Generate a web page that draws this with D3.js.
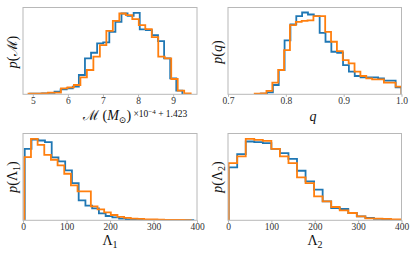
<!DOCTYPE html>
<html><head><meta charset="utf-8">
<script src="https://cdn.jsdelivr.net/npm/d3@7"></script>
<style>body{margin:0;background:#fff}svg{display:block}</style>
</head><body>
<svg id="c" width="415" height="257"></svg>
<script>
// ---- data (bin heights, arbitrary density units) ----
const mBlueRange = [4.924, 9.263];
const mBlue = [2,2,3,4,8,15,18,23,58,108,125,153,156,188,218,243,236,245,195,193,178,160,108,48,11];
const mOrangeRange = [4.877, 9.50];
const mOrange = [2,2,3,5,5,18,21,28,51,73,113,148,191,221,243,238,226,208,196,172,113,108,46,11,3];
const mTicks = [5,6,7,8,9];

const qBlueRange = [0.7473, 1.0];
const qBlue = [1,2,6,28,73,162,210,235,246,240,235,185,158,128,125,88,68,55,51,51,51,48,41,41,21];
const qOrangeRange = [0.7462, 1.0];
const qOrange = [2,3,10,35,73,133,208,218,221,222,235,235,188,158,130,103,93,68,55,48,45,45,35,35,23];
const qTicks = [0.7,0.8,0.9,1.0];

const l1BlueRange = [4, 391.5];
const l1Blue = [215,243,240,235,189,177,150,112,60,44,36,21,13,9,5,3,2,1.5,1,1,0.7,0.5,0.5,0.3,0.3];
const l1OrangeRange = [3, 385.5];
const l1Orange = [190,245,227,197,182,165,140,105,87,87,42,33,24,16,10,7,5,4,3,2.5,2,1.5,1.2,1,0.8];

const l2BlueRange = [1.5, 494];
const l2Blue = [159,199,237,235,232,215,202,185,149,117,92,57,37,34,22,12,7,4,2,1.5,1,0.7,0.5,0.3,0.2];
const l2OrangeRange = [1.5, 494];
const l2Orange = [172,192,245,242,239,215,192,172,129,112,72,57,40,30,22,12,6,5,4,3,3,2,2,1,1];
const lTicks = [0,100,200,300,400];

const yMax = 261;
const BLUE = "#1f77b4", ORANGE = "#ff7f0e";
const SERIF = "'Liberation Serif','DejaVu Serif',serif";

const panels = [
  {id:"m", box:[23,197,7.5,94.3], domain:[4.72,9.68], ticks:mTicks, fmt:d3.format("d"),
   series:[[mBlue,mBlueRange,BLUE],[mOrange,mOrangeRange,ORANGE]]},
  {id:"q", box:[228,401.5,7.5,94.3], domain:[0.7,1.0], ticks:qTicks, fmt:d3.format(".1f"),
   series:[[qBlue,qBlueRange,BLUE],[qOrange,qOrangeRange,ORANGE]]},
  {id:"l1", box:[23,197,133.5,220.3], domain:[0,400], ticks:lTicks, fmt:d3.format("d"),
   series:[[l1Blue,l1BlueRange,BLUE],[l1Orange,l1OrangeRange,ORANGE]]},
  {id:"l2", box:[228,401.5,133.5,220.3], domain:[0,400], ticks:lTicks, fmt:d3.format("d"),
   series:[[l2Blue,l2BlueRange,BLUE],[l2Orange,l2OrangeRange,ORANGE]]}
];

const svg = d3.select("#c");
const defs = svg.append("defs");

panels.forEach(p => {
  const [x0,x1,y0,y1] = p.box;
  const x = d3.scaleLinear().domain(p.domain).range([x0,x1]);
  const y = d3.scaleLinear().domain([0,yMax]).range([y1,y0]);
  defs.append("clipPath").attr("id","clip-"+p.id)
    .append("rect").attr("x",x0).attr("y",y0).attr("width",x1-x0).attr("height",y1-y0);

  const g = svg.append("g");
  const line = d3.line().x(d=>x(d[0])).y(d=>y(d[1]));
  p.series.forEach(([h,range,col]) => {
    const n = h.length, w = (range[1]-range[0])/n;
    const pts = [[range[0],0]];
    h.forEach((v,i)=>{ pts.push([range[0]+i*w, v]); pts.push([range[0]+(i+1)*w, v]); });
    pts.push([range[1],0]);
    g.append("path").attr("d", line(pts)).attr("fill","none")
      .attr("stroke",col).attr("stroke-width",1.8).attr("stroke-linejoin","miter")
      .attr("clip-path","url(#clip-"+p.id+")");
  });

  // frame
  svg.append("rect").attr("x",x0).attr("y",y0).attr("width",x1-x0).attr("height",y1-y0)
    .attr("fill","none").attr("stroke","#b8b8b8").attr("stroke-width",1);

  const ax = svg.append("g").attr("transform",`translate(0,${y1})`)
    .call(d3.axisBottom(x).tickValues(p.ticks).tickFormat(p.fmt).tickSize(2.5).tickPadding(0.8));
  ax.select(".domain").remove();
  ax.selectAll("line").attr("stroke","#b8b8b8");
  ax.selectAll("text").attr("font-family",SERIF).attr("font-size",9.5).attr("fill","#333");
});

function lab(x,y,rot,size){
  const t = svg.append("text").attr("font-family",SERIF).attr("font-size",size)
    .attr("text-anchor","middle").attr("fill","#111");
  if(rot) t.attr("transform",`translate(${x},${y}) rotate(-90)`);
  else t.attr("x",x).attr("y",y);
  return t;
}
// y labels
let t;
t = lab(17,52,true,14); t.append("tspan").attr("font-style","italic").text("p"); t.append("tspan").text("(ℳ)");
t = lab(222,52,true,14); t.append("tspan").attr("font-style","italic").text("p"); t.append("tspan").text("("); t.append("tspan").attr("font-style","italic").text("q"); t.append("tspan").text(")");
t = lab(17,177,true,14); t.append("tspan").attr("font-style","italic").text("p"); t.append("tspan").text("(Λ");
 t.append("tspan").attr("font-size",10).attr("dy",3).text("1"); t.append("tspan").attr("dy",-3).text(")");
t = lab(222,177,true,14); t.append("tspan").attr("font-style","italic").text("p"); t.append("tspan").text("(Λ");
 t.append("tspan").attr("font-size",10).attr("dy",3).text("2"); t.append("tspan").attr("dy",-3).text(")");

// x labels
t = svg.append("text").attr("font-family",SERIF).attr("font-size",14).attr("x",83).attr("y",120).attr("fill","#111");
t.append("tspan").text("ℳ (");
t.append("tspan").attr("font-style","italic").text("M");
t.append("tspan").attr("font-size",9).attr("dy",3).text("⊙");
t.append("tspan").attr("dy",-3).text(")");
t.append("tspan").attr("font-size",9.5).attr("dy",-3).text(" ×10");
t.append("tspan").attr("font-size",7).attr("dy",-3).text("−4");
t.append("tspan").attr("font-size",9.5).attr("dy",3).text(" + 1.423");

t = lab(313,121,false,14); t.attr("font-style","italic").text("q");
t = lab(110,245,false,14); t.append("tspan").text("Λ"); t.append("tspan").attr("font-size",10).attr("dy",3).text("1");
t = lab(315,245,false,14); t.append("tspan").text("Λ"); t.append("tspan").attr("font-size",10).attr("dy",3).text("2");
</script>
</body></html>
